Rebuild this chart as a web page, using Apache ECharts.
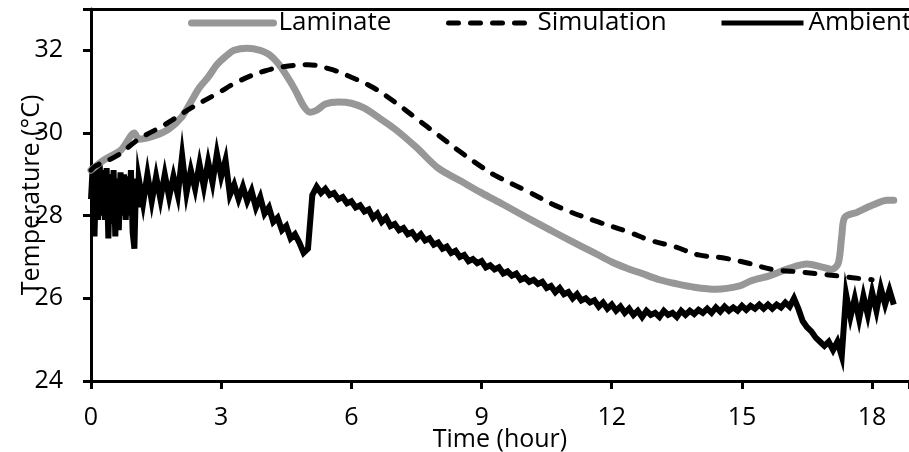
<!DOCTYPE html>
<html><head><meta charset="utf-8">
<script src="https://cdn.jsdelivr.net/npm/echarts@6/dist/echarts.min.js"></script>
<style>html,body{margin:0;padding:0;background:#fff}#c{width:909px;height:452px}</style>
</head><body><div id="c"></div>
<script>
// ---- data (hours, °C) ----
const laminateHours = [0.0,0.3,0.7,1.0,1.1,1.5,1.8,2.1,2.3,2.5,2.7,2.9,3.1,3.3,3.6,3.9,4.1,4.3,4.5,4.7,4.9,5.05,5.2,5.4,5.7,6.0,6.3,6.66,7.0,7.5,8.0,8.5,9.0,9.5,10.0,10.5,11.0,11.6,12.0,12.35,12.7,13.1,13.5,13.9,14.4,14.95,15.2,15.65,16.1,16.5,16.87,17.07,17.22,17.3,17.37,17.65,18.0,18.35,18.5];
const laminateTemps = [29.1,29.35,29.6,30.0,29.85,29.95,30.1,30.4,30.75,31.1,31.35,31.65,31.85,32.0,32.05,32.0,31.9,31.7,31.4,31.05,30.65,30.5,30.55,30.7,30.75,30.72,30.6,30.35,30.1,29.65,29.15,28.85,28.55,28.27,27.98,27.7,27.42,27.1,26.88,26.73,26.6,26.45,26.35,26.27,26.22,26.3,26.42,26.55,26.73,26.83,26.75,26.7,26.85,27.5,27.96,28.08,28.25,28.37,28.37];

const simulationHours = [0.0,0.1,0.6,1.1,1.7,2.3,2.9,3.4,4.0,4.55,5.0,5.5,6.0,6.5,7.0,7.5,8.0,8.5,9.0,9.3,10.0,10.8,11.6,12.4,12.9,13.45,14.0,14.55,15.15,15.7,16.2,16.7,17.3,17.8,18.0];
const simulationTemps = [29.1,29.2,29.45,29.85,30.2,30.6,30.95,31.25,31.5,31.62,31.65,31.55,31.35,31.1,30.75,30.35,29.95,29.55,29.18,28.98,28.62,28.2,27.88,27.6,27.4,27.25,27.05,26.98,26.85,26.7,26.65,26.6,26.53,26.47,26.45];

// ambient, first part sampled every 0.04 h (0 - 1.08 h)
const ambientEarlyStep = 0.04;
const ambientEarlyTemps = [
28.4,29.2,27.5,29.1,27.9,29.25,28.0,29.1,27.9,29.15,
27.45,29.0,27.8,29.1,27.5,28.9,27.65,29.05,28.0,29.0,
27.9,28.95,28.0,29.1,27.6,27.2,28.9,28.2
];
// ambient, rest sampled every 0.1 h (1.1 - 18.5 h)
const ambientStart = 1.1;
const ambientStep = 0.1;
const ambientTemps = [
28.9,28.3,29.0,28.35,28.95,28.4,29.0,28.45,28.95,
28.5,29.45,28.55,29.1,28.65,29.25,28.7,29.3,28.8,29.5,
28.95,29.35,28.5,28.75,28.4,28.7,28.35,28.6,28.2,28.45,
28.05,28.2,27.85,27.95,27.65,27.75,27.45,27.55,27.35,27.1,
27.2,28.5,28.7,28.55,28.65,28.5,28.55,28.4,28.45,28.3,
28.35,28.2,28.25,28.1,28.15,27.95,28.05,27.85,27.95,27.75,
27.8,27.65,27.7,27.55,27.6,27.45,27.55,27.4,27.45,27.3,
27.35,27.2,27.25,27.1,27.15,27.0,27.05,26.9,26.95,26.85,
26.9,26.75,26.8,26.7,26.75,26.6,26.65,26.55,26.6,26.45,
26.5,26.4,26.45,26.35,26.4,26.25,26.3,26.15,26.25,26.1,
26.15,26.0,26.1,25.95,26.0,25.9,25.95,25.8,25.9,25.75,
25.85,25.7,25.8,25.65,25.75,25.6,25.7,25.55,25.7,25.6,
25.65,25.55,25.7,25.6,25.65,25.55,25.7,25.6,25.7,25.62,
25.72,25.65,25.75,25.65,25.78,25.68,25.8,25.7,25.78,25.7,
25.82,25.72,25.82,25.75,25.85,25.75,25.85,25.75,25.85,25.78,
25.9,25.8,26.0,25.75,25.45,25.3,25.2,25.05,24.95,24.85,
24.95,24.75,24.95,24.6,26.1,25.55,26.0,25.5,26.05,25.6,
26.15,25.7,26.25,25.85,26.2,25.85
];

const seriesNames = ['Laminate','Simulation','Ambient'];
const xTicks = [0,3,6,9,12,15,18];
const yTicks = [24,26,28,30,32];
const xTitle = 'Time (hour)';
const yTitle = 'Temperature (°C)';

// ---- build ----
const pair = (xs, ys) => xs.map((x, i) => [x, ys[i]]);
const ambientData = ambientEarlyTemps.map((t, i) => [+(i * ambientEarlyStep).toFixed(3), t])
  .concat(ambientTemps.map((t, i) => [+(ambientStart + i * ambientStep).toFixed(3), t]));
const FONT = 'Open Sans';
const chart = echarts.init(document.getElementById('c'), null, {renderer: 'canvas'});
const legendText = {fontFamily: FONT, fontSize: 26, color: '#000', padding: [3, 0, 0, 0]};
const legendBase = {top: 10, padding: 0, itemHeight: 22, itemGap: 0, textStyle: legendText, itemStyle: {opacity: 0}};
chart.setOption({
  animation: false,
  backgroundColor: '#fff',
  grid: {left: 91, top: 9, right: 0, bottom: 71, containLabel: false, outerBoundsMode: 'none'},
  legend: [
    Object.assign({data: [seriesNames[0]], left: 188, itemWidth: 82, lineStyle: {width: 7}}, legendBase),
    Object.assign({data: [seriesNames[1]], left: 446, itemWidth: 84, lineStyle: {width: 5}}, legendBase),
    Object.assign({data: [seriesNames[2]], left: 719, itemWidth: 82, lineStyle: {width: 5}}, legendBase)
  ],
  xAxis: [{
    type: 'value', min: 0, max: 18.85, interval: 3,
    name: xTitle, nameLocation: 'middle', nameGap: 46, nameMoveOverlap: false,
    nameTextStyle: {fontFamily: FONT, fontSize: 25, color: '#000'},
    axisLine: {show: true, lineStyle: {color: '#000', width: 3}},
    axisTick: {show: true, inside: false, length: 8, lineStyle: {color: '#000', width: 3}},
    axisLabel: {margin: 24, fontFamily: FONT, fontSize: 25, color: '#000',
      formatter: v => xTicks.indexOf(v) >= 0 ? String(v) : ''},
    splitLine: {show: false}
  }, {
    type: 'value', position: 'top', min: 0, max: 18.85,
    axisLine: {show: true, lineStyle: {color: '#000', width: 3}},
    axisTick: {show: false}, axisLabel: {show: false}, splitLine: {show: false}
  }],
  yAxis: {
    type: 'value', min: 24, max: 33, interval: 2,
    name: yTitle, nameLocation: 'middle', nameGap: 47, nameRotate: 90, nameMoveOverlap: false,
    nameTextStyle: {fontFamily: FONT, fontSize: 25, color: '#000'},
    axisLine: {show: true, lineStyle: {color: '#000', width: 3}},
    axisTick: {show: true, inside: false, length: 8, lineStyle: {color: '#000', width: 3}},
    axisLabel: {margin: 28, fontFamily: FONT, fontSize: 25, color: '#000',
      formatter: v => yTicks.indexOf(v) >= 0 ? String(v) : ''},
    splitLine: {show: false}
  },
  series: [
    {name: seriesNames[0], type: 'line', data: pair(laminateHours, laminateTemps), smooth: 0.3,
     showSymbol: false, symbol: 'none', z: 2,
     lineStyle: {color: '#979797', width: 7, cap: 'round', join: 'round'}, itemStyle: {color: '#979797'}},
    {name: seriesNames[1], type: 'line', data: pair(simulationHours, simulationTemps), smooth: 0.4,
     showSymbol: false, symbol: 'none', z: 3,
     lineStyle: {color: '#000', width: 5, type: [10, 12], cap: 'round'}, itemStyle: {color: '#000'}},
    {name: seriesNames[2], type: 'line', data: ambientData, smooth: false,
     showSymbol: false, symbol: 'none', z: 1,
     lineStyle: {color: '#000', width: 6, join: 'miter'}, itemStyle: {color: '#000'}}
  ]
});
</script></body></html>
